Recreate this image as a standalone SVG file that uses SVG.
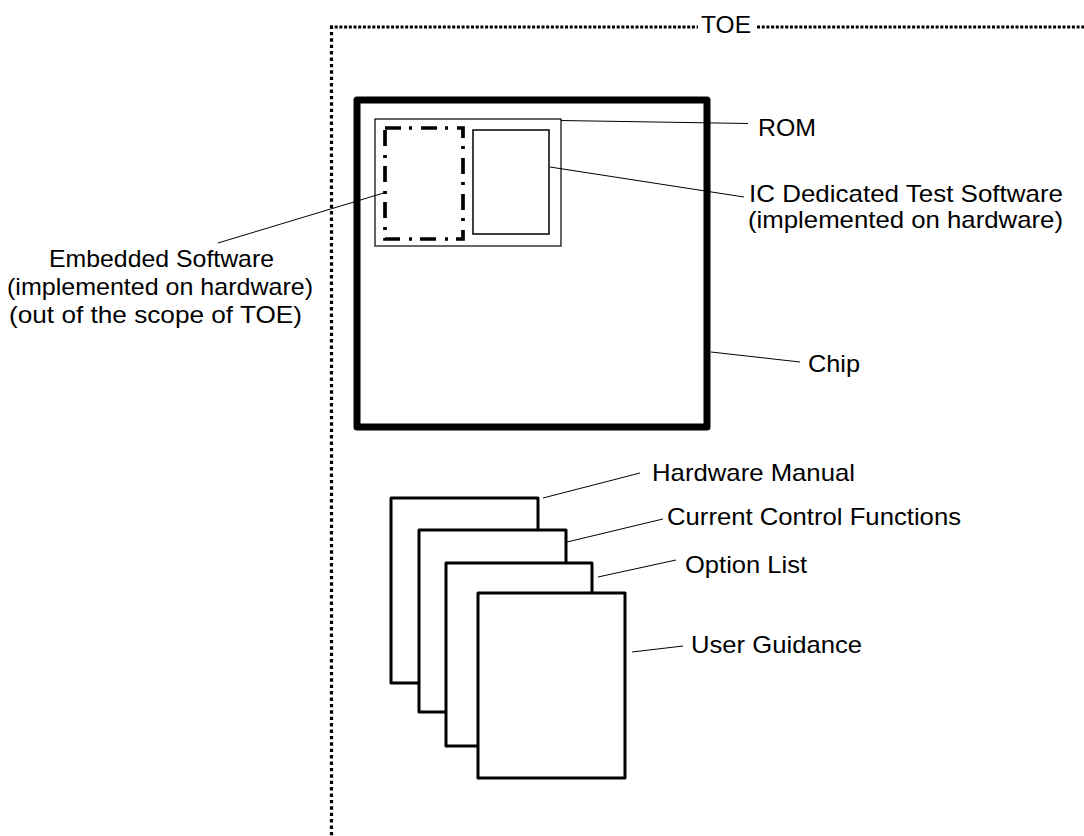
<svg xmlns="http://www.w3.org/2000/svg" width="1084" height="836" viewBox="0 0 1084 836">
<style>
  text { font-family: "Liberation Sans", Arial, sans-serif; font-size: 24px; fill: #000; }
  .leader { stroke: #000; stroke-width: 1; fill: none; }
  .doc { fill: #fff; stroke: #000; stroke-width: 3; stroke-linejoin: round; }
  .dotH { stroke: #000; stroke-width: 3; stroke-dasharray: 3 1.7; fill: none; }
  .dotV { stroke: #000; stroke-width: 3.2; stroke-dasharray: 3.4 3; fill: none; }
</style>
<rect x="0" y="0" width="1084" height="836" fill="#fff"/>

<g id="toe">
  <line class="dotH" x1="330" y1="27" x2="698" y2="27"/>
  <line class="dotH" x1="757" y1="27" x2="1084" y2="27"/>
  <line class="dotV" x1="331.5" y1="25.5" x2="331.5" y2="836"/>
  <text x="701" y="32.5" textLength="50" lengthAdjust="spacingAndGlyphs">TOE</text>
</g>

<g id="chip">
  <rect x="357" y="100" width="350" height="327" fill="none" stroke="#000" stroke-width="7" stroke-linejoin="round"/>
  <text x="808" y="372" textLength="52" lengthAdjust="spacingAndGlyphs">Chip</text>
</g>

<g id="rom">
  <rect x="375" y="119" width="186" height="127" fill="none" stroke="#000" stroke-width="1.2"/>
  <text x="758" y="136" textLength="58" lengthAdjust="spacingAndGlyphs">ROM</text>
</g>

<g id="embedded-software">
  <rect x="385" y="128" width="78" height="111" fill="none" stroke="#000" stroke-width="3.7" stroke-dasharray="16 8 3 9"/>
  <text x="49" y="267" textLength="225" lengthAdjust="spacingAndGlyphs">Embedded Software</text>
  <text x="7" y="295" textLength="306" lengthAdjust="spacingAndGlyphs">(implemented on hardware)</text>
  <text x="9" y="323" textLength="293" lengthAdjust="spacingAndGlyphs">(out of the scope of TOE)</text>
</g>

<g id="ic-test-software">
  <rect x="473" y="130" width="76" height="104" fill="none" stroke="#000" stroke-width="1.5"/>
  <text x="749" y="202" textLength="314" lengthAdjust="spacingAndGlyphs">IC Dedicated Test Software</text>
  <text x="748" y="228" textLength="315" lengthAdjust="spacingAndGlyphs">(implemented on hardware)</text>
</g>

<g id="hardware-manual">
  <rect class="doc" x="391" y="498" width="147" height="185"/>
  <text x="652" y="481" textLength="203" lengthAdjust="spacingAndGlyphs">Hardware Manual</text>
</g>
<g id="current-control-functions">
  <rect class="doc" x="419" y="530" width="147" height="182"/>
  <text x="667" y="525" textLength="294" lengthAdjust="spacingAndGlyphs">Current Control Functions</text>
</g>
<g id="option-list">
  <rect class="doc" x="446" y="563" width="146" height="183"/>
  <text x="685" y="573" textLength="122" lengthAdjust="spacingAndGlyphs">Option List</text>
</g>
<g id="user-guidance">
  <rect class="doc" x="478" y="593" width="147" height="185"/>
  <text x="691" y="653" textLength="171" lengthAdjust="spacingAndGlyphs">User Guidance</text>
</g>

<g id="connectors">
  <line class="leader" x1="561" y1="120.5" x2="748" y2="123.5"/>
  <line class="leader" x1="550" y1="167" x2="744" y2="197"/>
  <line class="leader" x1="387" y1="192" x2="218" y2="243"/>
  <line class="leader" x1="711" y1="352" x2="800" y2="362"/>
  <line class="leader" x1="543" y1="498" x2="640" y2="473"/>
  <line class="leader" x1="567" y1="542" x2="663" y2="519"/>
  <line class="leader" x1="598" y1="577" x2="676" y2="560"/>
  <line class="leader" x1="632" y1="652" x2="683" y2="646"/>
</g>
</svg>
